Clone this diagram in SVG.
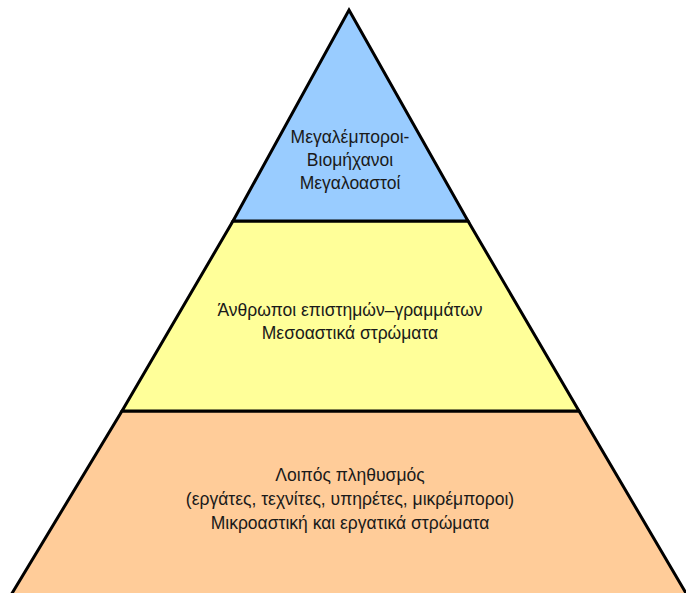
<svg xmlns="http://www.w3.org/2000/svg" width="686" height="593" viewBox="0 0 686 593">
<style>
.lvl{stroke:#000;stroke-width:3;stroke-linejoin:miter}
.t{font-family:"Liberation Sans",Arial,sans-serif;font-size:17.5px;fill:#1a1a1a;text-anchor:middle}
</style>
<rect width="686" height="593" fill="#fff"/>
<g id="bottom">
<polygon class="lvl" fill="#FFCC99" points="122,411 579,411 690,600 8,600"/>
<text class="t" x="350" y="481">Λοιπός πληθυσμός</text>
<text class="t" x="350" y="505">(εργάτες, τεχνίτες, υπηρέτες, μικρέμποροι)</text>
<text class="t" x="350" y="529">Μικροαστική και εργατικά στρώματα</text>
</g>
<g id="middle">
<polygon class="lvl" fill="#FFFF99" points="233,221 468,221 579,411 122,411"/>
<text class="t" x="350" y="316">Άνθρωποι επιστημών–γραμμάτων</text>
<text class="t" x="350" y="339">Μεσοαστικά στρώματα</text>
</g>
<g id="top">
<polygon class="lvl" fill="#99CCFF" points="349,10 468,221 233,221"/>
<text class="t" x="350" y="143">Μεγαλέμποροι-</text>
<text class="t" x="350" y="166">Βιομήχανοι</text>
<text class="t" x="350" y="189">Μεγαλοαστοί</text>
</g>
</svg>
